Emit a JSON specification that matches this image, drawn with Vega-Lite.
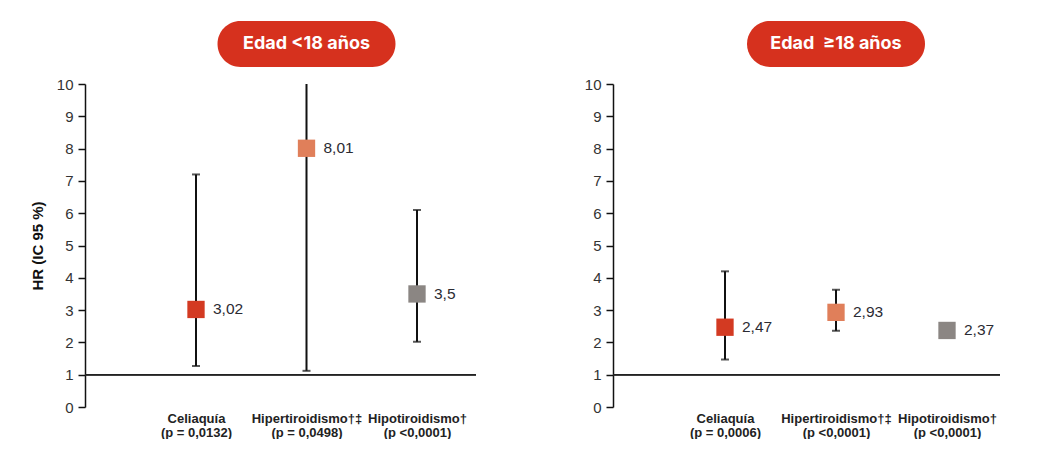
{
  "$schema": "https://vega.github.io/schema/vega-lite/v6.json",
  "padding": {"left": 30, "top": 21, "right": 0, "bottom": 0},
  "config": {
    "view": {"stroke": null},
    "font": "Liberation Sans",
    "locale": {"number": {"decimal": ",", "thousands": ".", "grouping": [3], "currency": ["", " €"]}}
  },
  "datasets": {
    "menores": [
      {"grupo": "Celiaquía|(p = 0,0132)", "enfermedad": "Celiaquía", "hr": 3.02, "lo": 1.27, "hi": 7.2},
      {"grupo": "Hipertiroidismo†‡|(p = 0,0498)", "enfermedad": "Hipertiroidismo", "hr": 8.01, "lo": 1.12, "hi": 10},
      {"grupo": "Hipotiroidismo†|(p <0,0001)", "enfermedad": "Hipotiroidismo", "hr": 3.5, "lo": 2.02, "hi": 6.1}
    ],
    "mayores": [
      {"grupo": "Celiaquía|(p = 0,0006)", "enfermedad": "Celiaquía", "hr": 2.47, "lo": 1.47, "hi": 4.2},
      {"grupo": "Hipertiroidismo†‡|(p <0,0001)", "enfermedad": "Hipertiroidismo", "hr": 2.93, "lo": 2.36, "hi": 3.63},
      {"grupo": "Hipotiroidismo†|(p <0,0001)", "enfermedad": "Hipotiroidismo", "hr": 2.37, "lo": null, "hi": null}
    ]
  },
  "spacing": 107,
  "hconcat": [
    {
      "width": 391,
      "height": 323,
      "data": {"name": "menores"},
      "encoding": {
        "x": {
          "field": "grupo", "type": "nominal", "sort": null,
          "scale": {"type": "point", "range": [111, 332], "padding": 0},
          "axis": {"title": null, "domain": false, "ticks": false, "labelAngle": 0,
                   "labelExpr": "split(datum.label, '|')", "labelFontWeight": "bold",
                   "labelFontSize": 13, "labelLineHeight": 14, "labelColor": "#222222",
                   "labelPadding": 5, "labelFont": "Liberation Sans"}
        },
        "y": {
          "type": "quantitative",
          "scale": {"domain": [0, 10], "nice": false, "zero": false},
          "axis": {"title": "HR (IC 95 %)", "titleFontSize": 15, "titleFontWeight": "bold",
                   "titleColor": "#111111", "titlePadding": 11,
                   "values": [0, 1, 2, 3, 4, 5, 6, 7, 8, 9, 10], "grid": false,
                   "domainColor": "#111111", "domainWidth": 1.5, "tickColor": "#111111",
                   "tickWidth": 1.5, "tickSize": 7, "labelFontSize": 15, "labelColor": "#333333",
                   "labelPadding": 5}
        }
      },
      "layer": [
        {
          "mark": {"type": "rule", "color": "#222222", "strokeWidth": 1.5},
          "encoding": {"y": {"datum": 1}, "x": null}
        },
        {
          "mark": {"type": "rule", "color": "#111111", "strokeWidth": 2},
          "encoding": {"y": {"field": "lo"}, "y2": {"field": "hi"}}
        },
        {
          "mark": {"type": "tick", "color": "#111111", "size": 8, "thickness": 2},
          "encoding": {"y": {"field": "lo"}}
        },
        {
          "transform": [{"filter": "datum.hi < 10"}],
          "mark": {"type": "tick", "color": "#111111", "size": 8, "thickness": 2},
          "encoding": {"y": {"field": "hi"}}
        },
        {
          "mark": {"type": "point", "shape": "square", "filled": true, "size": 300, "opacity": 1},
          "encoding": {
            "y": {"field": "hr"},
            "color": {"field": "enfermedad", "type": "nominal", "legend": null,
                      "scale": {"domain": ["Celiaquía", "Hipertiroidismo", "Hipotiroidismo"],
                                "range": ["#d33a22", "#e07f5a", "#8b8683"]}}
          }
        },
        {
          "mark": {"type": "text", "align": "left", "baseline": "middle", "dx": 17, "fontSize": 15.5, "color": "#2b2b33"},
          "encoding": {"y": {"field": "hr"}, "text": {"field": "hr", "format": ".3~g"}}
        },
        {
          "data": {"values": [{"titulo": "Edad <18 años"}]},
          "mark": {"type": "bar", "width": 178, "cornerRadius": 23, "color": "#d6311e"},
          "encoding": {
            "x": {"datum": "Hipertiroidismo†‡|(p = 0,0498)"},
            "y": {"datum": 10.53},
            "y2": {"datum": 11.95}
          }
        },
        {
          "data": {"values": [{"titulo": "Edad <18 años"}]},
          "mark": {"type": "text", "font": "Inter", "fontSize": 18, "fontWeight": "bold", "color": "white", "align": "center", "baseline": "middle"},
          "encoding": {
            "x": {"datum": "Hipertiroidismo†‡|(p = 0,0498)"},
            "y": {"datum": 11.24},
            "text": {"field": "titulo"}
          }
        }
      ]
    },
    {
      "width": 387,
      "height": 323,
      "data": {"name": "mayores"},
      "encoding": {
        "x": {
          "field": "grupo", "type": "nominal", "sort": null,
          "scale": {"type": "point", "range": [112, 334], "padding": 0},
          "axis": {"title": null, "domain": false, "ticks": false, "labelAngle": 0,
                   "labelExpr": "split(datum.label, '|')", "labelFontWeight": "bold",
                   "labelFontSize": 13, "labelLineHeight": 14, "labelColor": "#222222",
                   "labelPadding": 5, "labelFont": "Liberation Sans"}
        },
        "y": {
          "type": "quantitative",
          "scale": {"domain": [0, 10], "nice": false, "zero": false},
          "axis": {"title": null,
                   "values": [0, 1, 2, 3, 4, 5, 6, 7, 8, 9, 10], "grid": false,
                   "domainColor": "#111111", "domainWidth": 1.5, "tickColor": "#111111",
                   "tickWidth": 1.5, "tickSize": 7, "labelFontSize": 15, "labelColor": "#333333",
                   "labelPadding": 5}
        }
      },
      "layer": [
        {
          "mark": {"type": "rule", "color": "#222222", "strokeWidth": 1.5},
          "encoding": {"y": {"datum": 1}, "x": null}
        },
        {
          "transform": [{"filter": "isValid(datum.lo)"}],
          "mark": {"type": "rule", "color": "#111111", "strokeWidth": 2},
          "encoding": {"y": {"field": "lo"}, "y2": {"field": "hi"}}
        },
        {
          "transform": [{"filter": "isValid(datum.lo)"}],
          "mark": {"type": "tick", "color": "#111111", "size": 8, "thickness": 2},
          "encoding": {"y": {"field": "lo"}}
        },
        {
          "transform": [{"filter": "isValid(datum.hi) && datum.hi < 10"}],
          "mark": {"type": "tick", "color": "#111111", "size": 8, "thickness": 2},
          "encoding": {"y": {"field": "hi"}}
        },
        {
          "mark": {"type": "point", "shape": "square", "filled": true, "size": 300, "opacity": 1},
          "encoding": {
            "y": {"field": "hr"},
            "color": {"field": "enfermedad", "type": "nominal", "legend": null,
                      "scale": {"domain": ["Celiaquía", "Hipertiroidismo", "Hipotiroidismo"],
                                "range": ["#d33a22", "#e07f5a", "#8b8683"]}}
          }
        },
        {
          "mark": {"type": "text", "align": "left", "baseline": "middle", "dx": 17, "fontSize": 15.5, "color": "#2b2b33"},
          "encoding": {"y": {"field": "hr"}, "text": {"field": "hr", "format": ".3~g"}}
        },
        {
          "data": {"values": [{"titulo": "Edad\u00a0 ≥18 años"}]},
          "mark": {"type": "bar", "width": 178, "cornerRadius": 23, "color": "#d6311e"},
          "encoding": {
            "x": {"datum": "Hipertiroidismo†‡|(p <0,0001)"},
            "y": {"datum": 10.53},
            "y2": {"datum": 11.95}
          }
        },
        {
          "data": {"values": [{"titulo": "Edad\u00a0 ≥18 años"}]},
          "mark": {"type": "text", "font": "Inter", "fontSize": 18, "fontWeight": "bold", "color": "white", "align": "center", "baseline": "middle"},
          "encoding": {
            "x": {"datum": "Hipertiroidismo†‡|(p <0,0001)"},
            "y": {"datum": 11.24},
            "text": {"field": "titulo"}
          }
        }
      ]
    }
  ]
}
